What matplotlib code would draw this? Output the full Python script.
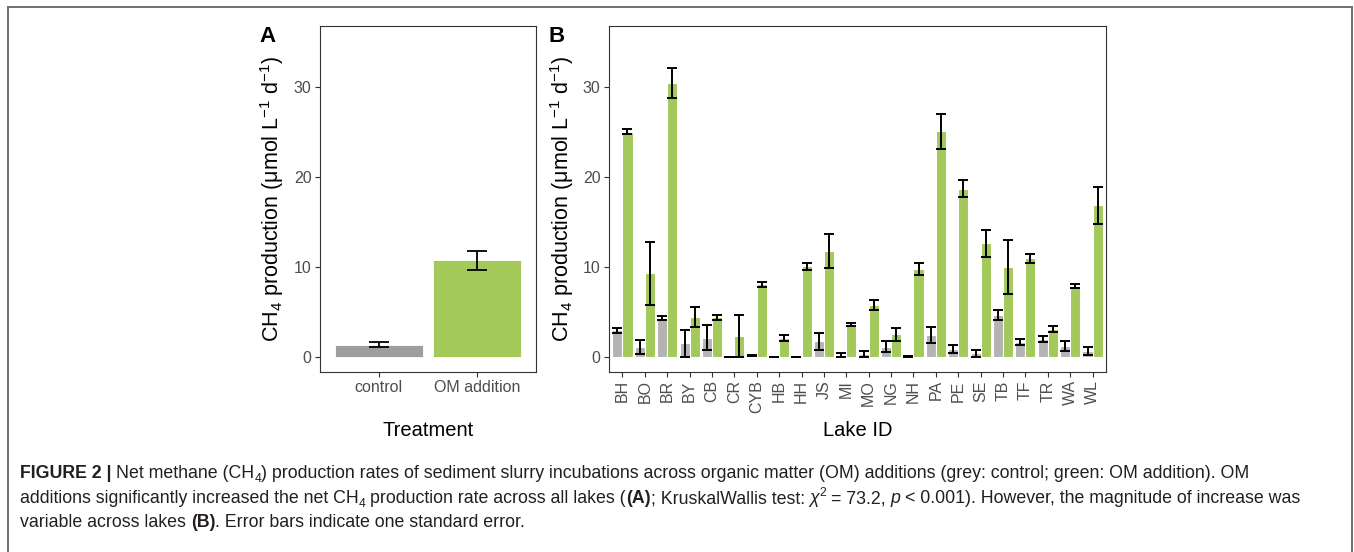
import matplotlib
matplotlib.use('Agg')
import matplotlib.pyplot as plt
import numpy as np
from matplotlib import font_manager as fm
from matplotlib.lines import Line2D
from matplotlib.transforms import IdentityTransform

# ---------------- data ----------------
treatments = ['control', 'OM addition']
treat_mean = [1.35, 10.75]
treat_se = [0.28, 1.04]

lakes = ['BH', 'BO', 'BR', 'BY', 'CB', 'CR', 'CYB', 'HB', 'HH', 'JS', 'MI',
         'MO', 'NG', 'NH', 'PA', 'PE', 'SE', 'TB', 'TF', 'TR', 'WA', 'WL']
control_mean = [2.95, 1.15, 4.3, 1.5, 2.15, 0.02, 0.2, 0.02, 0.02, 1.75, 0.22,
                0.35, 1.15, 0.07, 2.45, 0.9, 0.4, 4.65, 1.63, 2.0, 1.2, 0.66]
control_se = [0.25, 0.78, 0.22, 1.5, 1.4, 0.02, 0.05, 0.02, 0.02, 0.93, 0.22,
              0.35, 0.6, 0.05, 0.93, 0.47, 0.4, 0.52, 0.33, 0.37, 0.55, 0.4]
om_mean = [25.05, 9.3, 30.5, 4.45, 4.4, 2.35, 8.1, 2.1, 10.1, 11.8, 3.6,
           5.8, 2.5, 9.8, 25.1, 18.7, 12.65, 10.05, 10.95, 3.1, 7.9, 16.85]
om_se = [0.3, 3.5, 1.67, 1.07, 0.24, 2.35, 0.27, 0.35, 0.4, 1.9, 0.2,
         0.55, 0.7, 0.65, 1.95, 0.93, 1.5, 3.0, 0.52, 0.37, 0.25, 2.1]
yticks = [0, 10, 20, 30]

ylabel = 'CH$_4$ production (μmol L$^{-1}$ d$^{-1}$)'

# ---------------- style ----------------
def has_font(name):
    try:
        fm.findfont(fm.FontProperties(family=name), fallback_to_default=False)
        return True
    except Exception:
        return False

base_family = 'Liberation Sans'
cap_family = 'Liberation Sans Narrow' if has_font('Liberation Sans Narrow') else 'Liberation Sans'
plt.rcParams['font.family'] = [base_family, 'DejaVu Sans']
plt.rcParams['mathtext.fontset'] = 'custom'
plt.rcParams['mathtext.rm'] = base_family
plt.rcParams['mathtext.it'] = base_family + ':italic'
plt.rcParams['mathtext.bf'] = base_family + ':bold'

GREY_A = '#9e9e9e'
GREY_B = '#b3b3b3'
GREEN = '#a2c95a'
TICKC = '#333333'
TICKLBL = '#4d4d4d'

W, H = 1354, 552
fig = plt.figure(figsize=(W / 100, H / 100), dpi=100)
renderer = fig.canvas.get_renderer()

def axes_rect(l, t, r, b):
    return [l / W, 1 - b / H, (r - l) / W, (b - t) / H]

axA = fig.add_axes(axes_rect(320, 26, 536, 372))
axB = fig.add_axes(axes_rect(609, 26, 1106, 372))

ylim = (-1.67, 36.8)

def style_axes(ax):
    for s in ax.spines.values():
        s.set_color(TICKC)
        s.set_linewidth(0.8)
    ax.tick_params(direction='out', length=3.5, width=0.8, color=TICKC,
                   labelcolor=TICKLBL, labelsize=11.5, pad=2.5)
    ax.set_ylim(*ylim)
    ax.set_yticks(yticks)
    ax.set_yticklabels([str(v) for v in yticks])

# Panel A
xa = np.arange(1, len(treatments) + 1)
axA.bar(xa, treat_mean, width=0.9, color=[GREY_A, GREEN], edgecolor='white',
        linewidth=0.6, zorder=2)
axA.errorbar(xa, treat_mean, yerr=treat_se, fmt='none', ecolor='black',
             elinewidth=1.3, capsize=7.2, capthick=1.3, zorder=3)
axA.set_xlim(0.4, len(treatments) + 0.6)
axA.set_xticks(xa)
axA.set_xticklabels(treatments)
style_axes(axA)
axA.set_ylabel(ylabel, fontsize=15.5, color='black')
axA.yaxis.set_label_coords((272 - 320) / 216, 0.5)
axA.yaxis.label.set_va('center')
axA.set_xlabel('Treatment', fontsize=14.5, color='black')
axA.xaxis.set_label_coords(0.5, (372 - 430) / 346)
axA.xaxis.label.set_va('center')

# Panel B
xb = np.arange(1, len(lakes) + 1)
bw = 0.45
axB.bar(xb - bw / 2, control_mean, width=bw, color=GREY_B, edgecolor='white',
        linewidth=0.8, zorder=2)
axB.bar(xb + bw / 2, om_mean, width=bw, color=GREEN, edgecolor='white',
        linewidth=0.8, zorder=2)
axB.errorbar(xb - bw / 2, control_mean, yerr=control_se, fmt='none',
             ecolor='black', elinewidth=1.4, capsize=3.6, capthick=1.4, zorder=3)
axB.errorbar(xb + bw / 2, om_mean, yerr=om_se, fmt='none',
             ecolor='black', elinewidth=1.4, capsize=3.6, capthick=1.4, zorder=3)
axB.set_xlim(0.4, len(lakes) + 0.6)
axB.set_xticks(xb)
axB.set_xticklabels(lakes, rotation=90, ha='center', va='top')
style_axes(axB)
axB.set_ylabel(ylabel, fontsize=15.5, color='black')
axB.yaxis.set_label_coords((562 - 609) / 497, 0.5)
axB.yaxis.label.set_va('center')
axB.set_xlabel('Lake ID', fontsize=14.5, color='black')
axB.xaxis.set_label_coords(0.5, (372 - 430) / 346)
axB.xaxis.label.set_va('center')

# Panel letters
fig.text(267, H - 37, 'A', transform=IdentityTransform(), fontsize=16,
         weight='bold', ha='center', va='center')
fig.text(557, H - 37, 'B', transform=IdentityTransform(), fontsize=16,
         weight='bold', ha='center', va='center')

# Outer frame (open at bottom)
FR = '#707070'
fig.add_artist(Line2D([7.5 / W, 7.5 / W], [0, 1 - 6.5 / H], transform=fig.transFigure,
                      color=FR, lw=1.4))
fig.add_artist(Line2D([1352 / W, 1352 / W], [0, 1 - 6.5 / H], transform=fig.transFigure,
                      color=FR, lw=1.4))
fig.add_artist(Line2D([7.5 / W, 1352 / W], [1 - 6.5 / H, 1 - 6.5 / H],
                      transform=fig.transFigure, color=FR, lw=1.4))

# ---------------- caption ----------------
N, B_, I_, SUB, SUP = 'n', 'b', 'i', 'sub', 'sup'
cap_lines = [
    [('FIGURE 2 |', B_, False), ('Net methane (CH', N, True), ('4', SUB, False),
     (') production rates of sediment slurry incubations across organic matter (OM) additions (grey: control; green: OM addition). OM', N, False)],
    [('additions significantly increased the net CH', N, False), ('4', SUB, False),
     ('production rate across all lakes (', N, True), ('(A)', B_, False),
     ('; KruskalWallis test:', N, False), ('χ', I_, True), ('2', SUP, False),
     ('= 73.2,', N, True), ('p', I_, True), ('< 0.001). However, the magnitude of increase was', N, True)],
    [('variable across lakes', N, False), ('(B)', B_, True),
     ('. Error bars indicate one standard error.', N, False)],
]
CAPC = '#231f20'

def space_w(size):
    t1 = fig.text(0, 0, 'a a', fontsize=size, family=cap_family)
    t2 = fig.text(0, 0, 'aa', fontsize=size, family=cap_family)
    w = t1.get_window_extent(renderer).width - t2.get_window_extent(renderer).width
    t1.remove(); t2.remove()
    return w

def draw_caption(size, x0, baselines):
    texts, widths = [], []
    sw = space_w(size)
    for line, yb in zip(cap_lines, baselines):
        x = x0
        for s, kind, sp in line:
            if sp:
                x += sw
            fs = size * 0.68 if kind in (SUB, SUP) else size
            dy = 0.0
            if kind == SUB:
                dy = -0.2 * size * 100 / 72
            elif kind == SUP:
                dy = 0.42 * size * 100 / 72
            t = fig.text(x, H - yb + dy, s, transform=IdentityTransform(),
                         fontsize=fs, family=[cap_family, 'DejaVu Sans'],
                         weight='bold' if kind == B_ else 'normal',
                         style='italic' if kind == I_ else 'normal',
                         color=CAPC, ha='left', va='baseline')
            x += t.get_window_extent(renderer).width
            texts.append(t)
        widths.append(x - x0)
    return texts, widths

x0 = 20
baselines = [478, 503, 527]
size0 = 11.0
texts, widths = draw_caption(size0, x0, baselines)
target = 1302 - x0
size1 = size0 * target / widths[1]
for t in texts:
    t.remove()
draw_caption(size1, x0, baselines)

fig.savefig('out.png', dpi=100)
